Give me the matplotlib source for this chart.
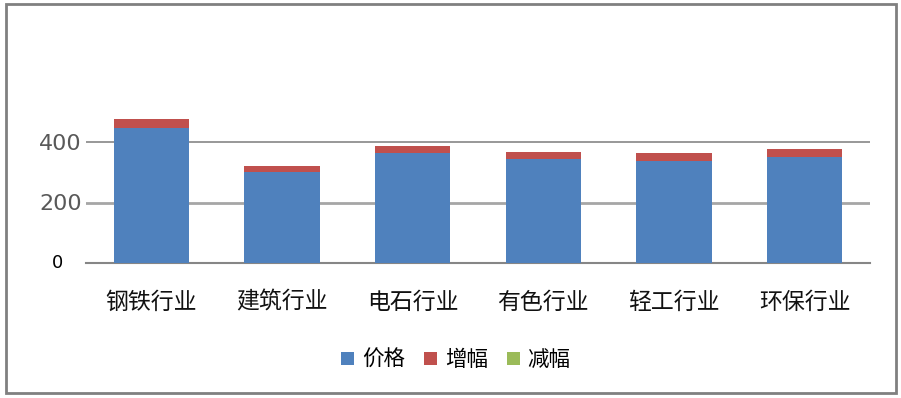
import numpy as np
import matplotlib
matplotlib.use("Agg")
import matplotlib.pyplot as plt
from matplotlib.patches import Rectangle

plt.rcParams['font.family'] = ['Noto Sans CJK SC', 'DejaVu Sans']

# data
industries = ['钢铁行业', '建筑行业', '电石行业', '有色行业', '轻工行业', '环保行业']
price = [446, 301, 364, 344, 337, 350]
increase = [30, 20, 23, 23, 26, 26]
decrease = [0, 0, 0, 0, 0, 0]
y_ticks = [200, 400]

W, H = 901, 398
fig = plt.figure(figsize=(W / 100, H / 100), dpi=100)
fig.patch.set_facecolor('white')

# outer frame
fig.patches.append(Rectangle((6 / W, 1 - 393 / H), 890 / W, 389 / H,
                             transform=fig.transFigure, fill=False,
                             edgecolor='#808080', linewidth=2))

ax = fig.add_axes([86 / W, 1 - 263 / H, 784 / W, (263 - 81.5) / H])
x = np.arange(len(industries))
bw = 0.574
b1 = ax.bar(x, price, bw, color='#4F81BD', label='价格', zorder=3)
b2 = ax.bar(x, increase, bw, bottom=price, color='#C0504D', label='增幅', zorder=3)
base = np.array(price) + np.array(increase)
b3 = ax.bar(x, decrease, bw, bottom=base, color='#9BBB59', label='减幅', zorder=3)

ax.set_xlim(-0.5, len(industries) - 0.5)
ax.set_ylim(0, 600)
ax.set_yticks(y_ticks)
ax.set_yticklabels([str(v) for v in y_ticks], fontsize=16, color='#595959',
                   family='DejaVu Sans')
ax.tick_params(axis='y', length=0, pad=3)
ax.tick_params(axis='x', length=0, pad=20)
ax.set_xticks(x)
ax.set_xticklabels(industries, fontsize=16.5, color='#111111')

ax.axhline(400, color='#868686', lw=1.2, zorder=1)
ax.axhline(200, color='#a6a6a6', lw=2, zorder=1)

for s in ['top', 'right', 'left']:
    ax.spines[s].set_visible(False)
ax.spines['bottom'].set_color('#868686')
ax.spines['bottom'].set_linewidth(1.5)

# zero label sits apart from the others
ax.text(-0.036, 0, '0', transform=ax.get_yaxis_transform(), ha='center',
        va='center', fontsize=13, color='black', family='DejaVu Sans')

fig.legend(handles=[b1, b2, b3], loc='center', bbox_to_anchor=(456 / W, 1 - 360 / H),
           ncol=3, frameon=False, fontsize=15.5, handlelength=0.6, handleheight=0.6,
           handletextpad=0.35, columnspacing=0.9)

fig.savefig('out.png', dpi=100)
